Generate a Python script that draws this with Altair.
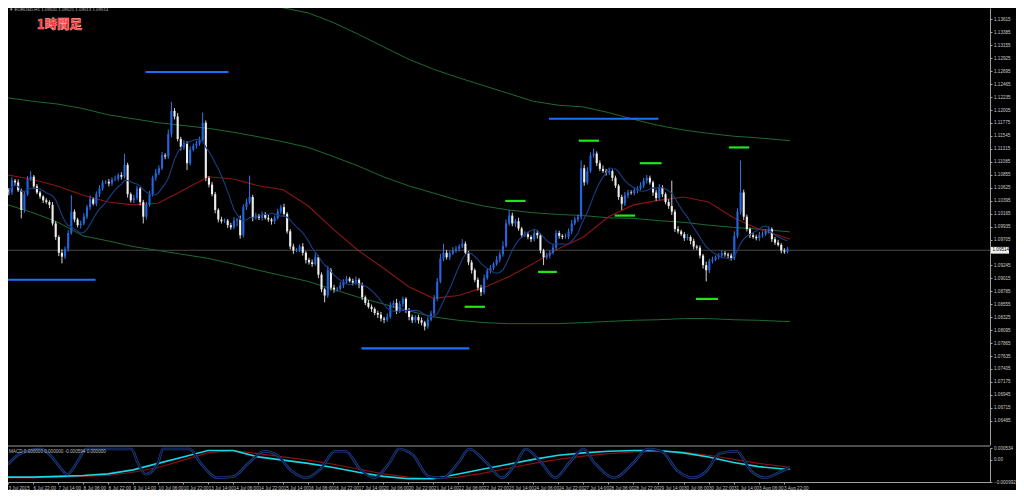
import altair as alt
import pandas as pd

# ---------------- data ----------------
# 2-hour candles (close prices), t in H1 bars from 3 Jul 2015 14:00
CLOSE = [
 1.1054,1.1075,1.1072,1.1058,1.1023,1.1051,1.1078,1.1082,1.1065,1.1054,
 1.1047,1.1040,1.1037,1.1032,1.0999,1.0975,1.0947,1.0940,1.0954,1.0982,
 1.1020,1.1006,1.0996,1.0999,1.1011,1.1028,1.1042,1.1034,1.1051,1.1061,
 1.1072,1.1073,1.1070,1.1077,1.1078,1.1085,1.1082,1.1103,1.1051,1.1040,
 1.1044,1.1061,1.1037,1.1011,1.1032,1.1051,1.1080,1.1089,1.1097,1.1120,
 1.1118,1.1158,1.1199,1.1189,1.1149,1.1135,1.1142,1.1106,1.1130,1.1137,
 1.1141,1.1147,1.1178,1.1080,1.1068,1.1051,1.1023,1.1006,1.1003,1.1004,
 1.0996,1.0992,1.1004,1.1006,1.0978,1.1028,1.1037,1.1046,1.1009,1.1013,
 1.1009,1.1015,1.1009,1.1006,1.1003,1.1009,1.1020,1.1028,1.1016,1.0985,
 1.0958,1.0951,1.0952,1.0958,1.0947,1.0934,1.0930,1.0927,1.0939,1.0908,
 1.0882,1.0871,1.0916,1.0885,1.0882,1.0883,1.0889,1.0896,1.0901,1.0897,
 1.0894,1.0899,1.0890,1.0868,1.0858,1.0851,1.0847,1.0840,1.0837,1.0830,
 1.0828,1.0833,1.0854,1.0858,1.0844,1.0856,1.0865,1.0844,1.0833,1.0827,
 1.0833,1.0827,1.0823,1.0816,1.0828,1.0839,1.0865,1.0896,1.0937,1.0947,
 1.0939,1.0946,1.0951,1.0954,1.0958,1.0963,1.0947,1.0930,1.0916,1.0899,
 1.0885,1.0877,1.0902,1.0915,1.0920,1.0927,1.0935,1.0944,1.0959,1.0999,
 1.1013,1.0999,1.1003,1.0990,1.0978,1.0980,1.0975,1.0971,1.0982,1.0978,
 1.0951,1.0939,1.0942,1.0947,1.0956,1.0982,1.0977,1.0975,1.0975,1.0985,
 1.0999,1.1006,1.1011,1.1097,1.1072,1.1092,1.1120,1.1123,1.1106,1.1096,
 1.1092,1.1089,1.1092,1.1080,1.1066,1.1046,1.1034,1.1049,1.1054,1.1053,
 1.1058,1.1061,1.1066,1.1075,1.1080,1.1072,1.1054,1.1044,1.1063,1.1051,
 1.1037,1.1030,1.1020,1.0989,1.0985,1.0980,1.0973,1.0975,1.0968,1.0958,
 1.0956,1.0942,1.0925,1.0916,1.0932,1.0935,1.0939,1.0942,1.0946,1.0944,
 1.0942,1.0937,1.0977,1.1020,1.1054,1.1011,1.0989,1.0978,1.0975,1.0973,
 1.0978,1.0980,1.0985,1.0989,1.0971,1.0965,1.0961,1.0951,1.0949,1.0954,
]
FIRST_OPEN = 1.1058
UP_WICK = [  # pips above the body
 4,6,3,5,3,4,5,10,3,4, 3,2,4,3,5,4,3,6,4,5, 29,4,3,5,6,4,7,3,5,6,
 4,3,5,4,6,3,5,20,4,3, 6,5,3,4,5,6,4,7,5,6, 4,8,16,5,6,4,5,3,6,4,
 5,6,18,4,3,5,4,3,5,4, 3,4,6,3,7,5,6,38,4,5, 3,5,4,6,3,4,5,4,6,3,
 4,5,3,4,6,3,4,5,7,3, 4,3,8,4,5,3,6,4,5,3, 4,6,3,4,3,5,4,3,4,5,
 3,6,5,4,7,5,4,3,5,4, 3,4,5,3,6,5,7,6,8,16, 5,4,6,5,4,8,4,3,4,3,
 4,5,6,4,5,3,6,5,8,7, 10,5,4,6,3,5,4,3,6,5, 4,3,5,4,6,5,4,3,6,5,
 6,5,4,14,6,7,5,9,4,5, 6,4,5,3,4,3,4,6,5,4, 5,4,6,5,5,4,3,5,6,4,
 3,5,45,4,5,3,4,5,3,4, 3,4,3,6,4,5,3,4,5,4, 3,4,8,6,57,5,4,3,5,4,
 6,5,4,5,3,4,5,3,4,3,
]
DN_WICK = [  # pips below the body
 5,4,6,3,15,5,3,4,5,3, 4,5,3,6,4,5,6,12,4,5, 3,5,4,6,3,4,5,3,4,5,
 4,3,5,4,3,4,5,3,6,4, 5,4,6,12,5,3,4,5,4,3, 5,4,6,5,4,6,5,12,4,3,
 5,4,3,6,5,4,6,5,4,3, 5,4,3,10,6,4,5,4,6,3, 4,5,3,4,6,5,3,4,5,4,
 5,6,3,4,5,6,4,5,3,6, 5,12,4,5,6,4,3,5,4,3, 5,4,6,5,4,3,5,4,6,5,
 6,4,3,5,6,4,5,4,6,5, 4,6,5,7,4,3,5,4,3,5, 4,5,3,4,5,3,4,5,6,4,
 5,7,4,3,5,4,3,5,4,3, 4,5,6,4,5,3,4,5,4,6, 5,14,4,5,3,4,5,4,3,4,
 5,3,4,5,6,4,3,4,5,4, 3,5,4,6,4,5,11,4,5,3, 4,5,3,4,5,4,6,5,4,5,
 4,5,6,5,4,3,5,4,6,5, 4,5,6,20,5,4,3,4,5,4, 5,4,3,4,5,6,4,5,3,4,
 5,4,3,4,5,4,3,5,4,3,
]

# indicator lines sampled every 16 H1 bars (+ last bar)
LINE_T = [0,16,32,48,64,80,96,112,128,144,160,176,192,208,224,240,
          256,272,288,304,320,336,352,368,384,400,416,432,448,464,480,496,500]
RED_MA = [1.1085,1.1077,1.1065,1.1049,1.1037,1.1032,1.1035,1.1058,1.1082,1.1078,1.1066,
          1.1059,1.1030,1.0989,1.0951,1.0920,1.0887,1.0866,1.0871,1.0885,1.0904,1.0928,
          1.0954,1.0975,1.1011,1.1032,1.1040,1.1046,1.1037,1.1009,1.0989,1.0975,1.0971]
BAND_MID = [1.1222,1.1216,1.1211,1.1203,1.1192,1.1185,1.1178,1.1173,1.1168,1.1161,1.1153,
            1.1144,1.1134,1.1118,1.1101,1.1082,1.1066,1.1053,1.1040,1.1030,1.1023,1.1018,
            1.1015,1.1013,1.1009,1.1008,1.1004,1.1001,1.0996,1.0992,1.0989,1.0985,1.0984]
BAND_LO = [1.1032,1.1018,1.1001,1.0977,1.0968,1.0958,1.0951,1.0944,1.0937,1.0927,1.0916,
           1.0906,1.0896,1.0882,1.0868,1.0856,1.0844,1.0833,1.0827,1.0823,1.0821,1.0821,
           1.0821,1.0823,1.0825,1.0827,1.0828,1.0830,1.0830,1.0828,1.0827,1.0825,1.0825]
BAND_UP = [1.1411,1.1415,1.1422,1.1429,1.1417,1.1413,1.1406,1.1403,1.1399,1.1396,1.1389,
           1.1382,1.1373,1.1356,1.1335,1.1313,1.1291,1.1273,1.1258,1.1244,1.1230,1.1216,
           1.1209,1.1206,1.1196,1.1184,1.1173,1.1165,1.1159,1.1154,1.1151,1.1147,1.1146]
MACD_MAIN = [-0.000774,-0.000774,-0.000738,-0.000701,-0.000629,-0.000447,-0.000156,0.000134,
             0.000425,0.000425,0.000134,-0.000011,-0.000156,-0.000338,-0.000556,-0.000738,
             -0.000847,-0.000847,-0.000629,-0.000411,-0.000193,0.000025,0.000207,0.000316,
             0.000389,0.000425,0.000425,0.000316,0.000134,-0.000120,-0.000302,-0.000411,-0.000411]
MACD_SIG = [-0.000810,-0.000810,-0.000774,-0.000738,-0.000701,-0.000556,-0.000338,-0.000011,
            0.000316,0.000425,0.000280,0.000134,-0.000011,-0.000193,-0.000411,-0.000629,
            -0.000774,-0.000847,-0.000774,-0.000592,-0.000374,-0.000156,0.000025,0.000171,
            0.000280,0.000352,0.000389,0.000352,0.000207,0.000025,-0.000156,-0.000302,-0.000338]

STOCH_T = [0,8,21,27,31,38,44,50,62,79,83,88,96,99,116,123,134,144,154,164,172,181,191,200,
           209,216,225,234,244,250,259,269,278,288,295,306,316,325,331,341,350,359,368,375,
           388,400,409,418,428,438,447,455,466,475,484,494,500]
STOCH = [52,86,100,81,57,21,57,100,100,100,57,21,57,100,100,57,10,14,57,93,81,33,10,38,
         93,93,38,10,57,100,81,14,10,57,100,57,10,57,100,57,10,57,100,57,
         10,57,100,93,33,10,33,86,93,33,10,29,43]

# drawn support / resistance segments: (start bar, end bar, price)
BLUE_LEVELS = [(88,141,1.1268),(0,56,1.0899),(226,295,1.0777),(346,416,1.1185)]
GREEN_LEVELS = [(365,378,1.1146),(318,331,1.1039),(404,418,1.1106),(388,401,1.1013),
                (339,351,1.0913),(292,305,1.0851),(461,474,1.1134),(440,454,1.0865)]

PRICE_NOW = 1.09514
Y_TICKS = [1.13615,1.13385,1.13155,1.12925,1.12695,1.12465,1.12235,1.12005,1.11775,
           1.11545,1.11315,1.11085,1.10855,1.10625,1.10395,1.10165,1.09935,1.09705,
           1.09245,1.09015,1.08785,1.08555,1.08325,1.08095,1.07865,1.07635,1.07405,
           1.07175,1.06945,1.06715,1.06485]
MACD_TICKS = [0.000534, 0.0, -0.000992]
X_LABELS = ["3 Jul 2015","6 Jul 22:00","7 Jul 14:00","8 Jul 06:00","8 Jul 22:00",
            "9 Jul 14:00","10 Jul 06:00","10 Jul 22:00","13 Jul 14:00","14 Jul 06:00",
            "14 Jul 22:00","15 Jul 14:00","16 Jul 06:00","16 Jul 22:00","17 Jul 14:00",
            "20 Jul 06:00","20 Jul 22:00","21 Jul 14:00","22 Jul 06:00","22 Jul 22:00",
            "23 Jul 14:00","24 Jul 06:00","24 Jul 22:00","27 Jul 14:00","28 Jul 06:00",
            "28 Jul 22:00","29 Jul 14:00","30 Jul 06:00","30 Jul 22:00","31 Jul 14:00",
            "3 Aug 06:00","3 Aug 22:00"]
HEADER = "\u25bc EURUSD,H1  1.09520 1.09521 1.09513 1.09514"
TITLE = "1時間足"
MACD_TEXT = "MACD 0.000000 0.000000 -0.000594 0.000000"

# ---------------- layout ----------------
W, H = 982, 474
MAIN_BOTTOM = 437          # main panel occupies plot y 0..437
SUB_TOP, SUB_BOTTOM = 440, 474
FONT = "Liberation Sans"
LBL = 4.6

opens = [FIRST_OPEN] + CLOSE[:-1]
rows = []
for k, (o, c, u, d) in enumerate(zip(opens, CLOSE, UP_WICK, DN_WICK)):
    rows.append(dict(t=2 * k + 0.5, open=o, close=c,
                     high=max(o, c) + u / 10000, low=min(o, c) - d / 10000,
                     dir="up" if c >= o else "down"))
candles = pd.DataFrame(rows)
lines = pd.DataFrame(dict(t=LINE_T, red=RED_MA, mid=BAND_MID, lo=BAND_LO, up=BAND_UP,
                          macd=MACD_MAIN, sig=MACD_SIG))
stoch = pd.DataFrame(dict(t=STOCH_T, s=STOCH))
lv_rows = [dict(t=a, t2=b, p=p, kind="blue") for a, b, p in BLUE_LEVELS] + \
          [dict(t=a, t2=b, p=p, kind="green") for a, b, p in GREEN_LEVELS]
levels = pd.DataFrame(lv_rows)

x_expr = "[" + ",".join("'%s'" % s for s in X_LABELS) + "][round(datum.value/16)]"
X_SCALE = alt.Scale(domain=[0, 628], nice=False, zero=False)
X_AXIS = alt.Axis(values=[16 * j for j in range(len(X_LABELS))], labelExpr=x_expr,
                  labelAlign="left", labelBaseline="top", labelFont=FONT, labelFontSize=LBL,
                  labelColor="#c8c8c8", labelPadding=1, labelOverlap=False, labelFlush=False,
                  tickSize=2, tickColor="#a0a0a0", domainColor="#a0a0a0", grid=False,
                  title=None, orient="bottom")
PRICE_SCALE = alt.Scale(domain=[1.06055, 1.13817], range=[MAIN_BOTTOM, 0], nice=False, zero=False)
PRICE_AXIS = alt.Axis(values=Y_TICKS, format=".5f", orient="right", labelFont=FONT,
                      labelFontSize=LBL, labelColor="#c8c8c8", labelPadding=1.5,
                      labelOverlap=False, labelFlush=False, tickSize=2, tickColor="#a0a0a0",
                      domainColor="#a0a0a0", grid=False, title=None)


def X(field="t"):
    return alt.X(field + ":Q", scale=X_SCALE, axis=X_AXIS)


def PY(field):
    return alt.Y(field + ":Q", scale=PRICE_SCALE, axis=PRICE_AXIS)


cbase = alt.Chart(candles)
up_c = cbase.transform_filter("datum.dir == 'up'")
dn_c = cbase.transform_filter("datum.dir == 'down'")
wick_up = up_c.mark_rule(strokeWidth=1, clip=True, color="#3c78dc").encode(x=X(), y=PY("low"), y2="high")
wick_dn = dn_c.mark_rule(strokeWidth=1, clip=True, color="#d2d2d2").encode(x=X(), y=PY("low"), y2="high")
body_up = up_c.mark_rule(strokeWidth=2.1, clip=True, color="#1f66e0").encode(x=X(), y=PY("open"), y2="close")
body_dn = dn_c.mark_rule(strokeWidth=2.1, clip=True, color="#eeeeee").encode(x=X(), y=PY("open"), y2="close")
ma_fast = cbase.transform_window(
    ma="mean(close)", frame=[-9, 0], sort=[alt.SortField("t")]
).mark_line(color="#1b3d86", strokeWidth=1.1, clip=True).encode(x=X(), y=PY("ma"))

lbase = alt.Chart(lines)
band_layers = [lbase.mark_line(color="#1f6a30", strokeWidth=1, clip=True).encode(x=X(), y=PY(f))
               for f in ["up", "mid", "lo"]]
red_ma = lbase.mark_line(color="#8c1414", strokeWidth=1.1, clip=True).encode(x=X(), y=PY("red"))

now_line = alt.Chart(pd.DataFrame(dict(p=[PRICE_NOW]))).mark_rule(
    color="#4a4a4a", strokeWidth=1).encode(y=PY("p"))
now_box = alt.Chart(pd.DataFrame(dict(p=[PRICE_NOW + 0.0006], p2=[PRICE_NOW - 0.0006]))).mark_rect(
    color="#f0f0f0").encode(x=alt.value(W + 1), x2=alt.value(W + 19), y=PY("p"), y2="p2")
now_txt = alt.Chart(pd.DataFrame(dict(p=[PRICE_NOW], s=["%.5f" % PRICE_NOW]))).mark_text(
    font=FONT, fontSize=LBL, color="#000000", align="left", baseline="middle").encode(
    x=alt.value(W + 2.5), y=PY("p"), text="s:N")

lvb = alt.Chart(levels).transform_filter("datum.kind == 'blue'").mark_rule(
    strokeWidth=2.2, color="#1f6fff").encode(x=X(), x2="t2", y=PY("p"))
lvg = alt.Chart(levels).transform_filter("datum.kind == 'green'").mark_rule(
    strokeWidth=2.2, color="#1ee61a").encode(x=X(), x2="t2", y=PY("p"))

price_layer = alt.layer(band_layers[0], band_layers[1], band_layers[2], red_ma, now_line,
                        wick_dn, wick_up, body_dn, body_up, ma_fast, lvb, lvg, now_box, now_txt)

# ---- lower (MACD) panel ----
MACD_SCALE = alt.Scale(domain=[-0.000992, 0.000534], range=[SUB_BOTTOM, SUB_TOP], nice=False, zero=False)
MACD_AXIS = alt.Axis(values=MACD_TICKS, orient="right", labelFont=FONT, labelFontSize=LBL,
                     labelColor="#c8c8c8", labelPadding=1.5, labelOverlap=False, labelFlush=False,
                     labelExpr="datum.value == 0 ? '0.00' : format(datum.value, '.6f')",
                     tickSize=2, tickColor="#a0a0a0", domainColor="#a0a0a0", grid=False, title=None)
macd_cyan = lbase.mark_line(color="#19d6e6", strokeWidth=1.6).encode(
    x=X(), y=alt.Y("macd:Q", scale=MACD_SCALE, axis=MACD_AXIS))
macd_red = lbase.mark_line(color="#8a1010", strokeWidth=1.1).encode(
    x=X(), y=alt.Y("sig:Q", scale=MACD_SCALE, axis=MACD_AXIS))
macd_layer = alt.layer(macd_red, macd_cyan)

STOCH_SCALE = alt.Scale(domain=[0, 100], range=[SUB_BOTTOM - 1, SUB_TOP + 1], nice=False, zero=False)
st_outer = alt.Chart(stoch).mark_line(color="#1d3f8f", strokeWidth=2.6, interpolate="monotone").encode(
    x=X(), y=alt.Y("s:Q", scale=STOCH_SCALE, axis=None))
st_inner = alt.Chart(stoch).mark_line(color="#000000", strokeWidth=0.9, interpolate="monotone").encode(
    x=X(), y=alt.Y("s:Q", scale=STOCH_SCALE, axis=None))
stoch_layer = alt.layer(st_outer, st_inner)

one = pd.DataFrame(dict(a=[0]))
sep = alt.Chart(one).mark_rule(color="#9a9a9a", strokeWidth=1).encode(
    x=alt.value(0), x2=alt.value(W), y=alt.value(MAIN_BOTTOM + 1))
hdr = alt.Chart(one).mark_text(text=HEADER, font=FONT, fontSize=4.4, color="#bdbdbd",
                               align="left", baseline="top").encode(x=alt.value(1), y=alt.value(0))
ttl = alt.Chart(one).mark_text(text=TITLE, font="Noto Sans CJK JP", fontWeight="bold",
                               fontSize=12.5, color="#ff1f1f", stroke="#ffa0a0", strokeWidth=0.6,
                               align="left", baseline="middle").encode(x=alt.value(29), y=alt.value(16.5))
macd_txt = alt.Chart(one).mark_text(text=MACD_TEXT, font=FONT, fontSize=4.6, color="#bdbdbd",
                                    align="left", baseline="top").encode(x=alt.value(1), y=alt.value(SUB_TOP + 1))

chart = alt.layer(price_layer, macd_layer, stoch_layer, sep, hdr, ttl, macd_txt).resolve_scale(
    y="independent"
).properties(
    width=W, height=H,
    autosize=alt.AutoSizeParams(type="none"),
    padding={"left": 0, "top": 0, "right": 26, "bottom": 8},
).configure(background="#000000").configure_view(strokeWidth=0)

chart.save("out.html", embed_options={"renderer": "svg", "actions": False})
